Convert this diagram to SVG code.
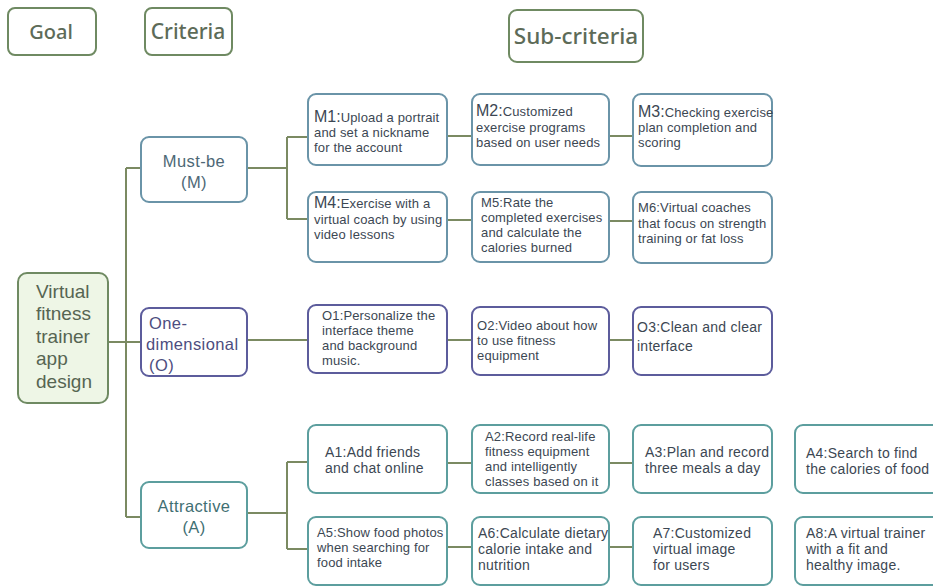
<svg xmlns="http://www.w3.org/2000/svg" width="933" height="586" viewBox="0 0 933 586">
<style>
.hdr{fill:#fff;stroke:#6f8a62;stroke-width:2}
.ht{font-family:"Noto Sans",sans-serif;font-weight:500;fill:#5d6b58;text-anchor:middle}
.goal{fill:#eef6e6;stroke:#6f8a62;stroke-width:2}
.gt{font-family:"Liberation Sans",Arial,sans-serif;font-size:19px;fill:#566552}
.m{fill:#fff;stroke:#6a94a8;stroke-width:2}
.o{fill:#fff;stroke:#5c5c9c;stroke-width:2}
.a{fill:#fff;stroke:#5c9e9e;stroke-width:2}
.ct{font-family:"Liberation Sans",Arial,sans-serif;font-size:16.5px;letter-spacing:.4px;fill:#4d6876;text-anchor:middle}
.cto{font-family:"Liberation Sans",Arial,sans-serif;font-size:16.5px;letter-spacing:.4px;fill:#4d4d80}
.cta{font-family:"Liberation Sans",Arial,sans-serif;font-size:16.5px;letter-spacing:.4px;fill:#3f6f73;text-anchor:middle}
.st{font-family:"Liberation Sans",Arial,sans-serif;font-size:13px;letter-spacing:.15px;fill:#3c4753}
.sa{font-family:"Liberation Sans",Arial,sans-serif;font-size:14px;letter-spacing:.25px;fill:#3c4753}
.big{font-size:16px;letter-spacing:0}
.ln{fill:none;stroke:#7b8a62;stroke-width:2}
</style>
<g id="connectors">
<path class="ln" d="M108 342H141M126 168V517M126 168H141M126 517H141"/>
<path class="ln" d="M247 168H287M287 137V219M287 137H308M287 219H308"/>
<path class="ln" d="M447 136H472M609 136H633M447 220H472M609 221H633"/>
<path class="ln" d="M247 340H308M447 340H472M609 340H633"/>
<path class="ln" d="M247 513H287M287 462V549M287 462H308M287 549H308"/>
<path class="ln" d="M447 463H472M609 463H633M447 547H472M609 547H633"/>
</g>
<g id="h-goal"><rect class="hdr" x="8" y="8" width="88" height="47" rx="7"/><text class="ht" x="51" y="39" font-size="20">Goal</text></g>
<g id="h-criteria"><rect class="hdr" x="145" y="8" width="87" height="47" rx="7"/><text class="ht" x="188" y="39" font-size="21">Criteria</text></g>
<g id="h-sub"><rect class="hdr" x="509" y="10" width="134" height="52" rx="8"/><text class="ht" x="576" y="44" font-size="22.5">Sub-criteria</text></g>
<g id="goal"><rect class="goal" x="18" y="273" width="90" height="130" rx="9"/>
<text class="gt" x="36" y="298">Virtual</text><text class="gt" x="36" y="320">fitness</text><text class="gt" x="36" y="343">trainer</text><text class="gt" x="36" y="365">app</text><text class="gt" x="36" y="388">design</text></g>
<g id="must-be"><rect class="m" x="141" y="137" width="106" height="65" rx="8"/><text class="ct" x="194" y="167">Must-be</text><text class="ct" x="194" y="188">(M)</text></g>
<g id="one-dim"><rect class="o" x="141" y="308" width="106" height="68" rx="8"/><text class="cto" x="149" y="329">One-</text><text class="cto" x="146" y="350">dimensional</text><text class="cto" x="149" y="371">(O)</text></g>
<g id="attractive"><rect class="a" x="141" y="482" width="106" height="66" rx="8"/><text class="cta" x="194" y="512">Attractive</text><text class="cta" x="194" y="533">(A)</text></g>
<g id="M1"><rect class="m" x="308" y="94" width="139" height="71" rx="8"/><text class="st" x="314" y="122"><tspan class="big">M1:</tspan>Upload a portrait</text><text class="st" x="314" y="137"> and set a nickname</text><text class="st" x="314" y="152">for the account</text></g>
<g id="M2"><rect class="m" x="472" y="94" width="137" height="71" rx="8"/><text class="st" x="476" y="116"><tspan class="big">M2:</tspan>Customized</text><text class="st" x="476" y="132">exercise programs</text><text class="st" x="476" y="147">based on user needs</text></g>
<g id="M3"><rect class="m" x="633" y="94" width="139" height="72" rx="8"/><text class="st" x="638" y="117"><tspan class="big">M3:</tspan>Checking exercise</text><text class="st" x="638" y="132">plan completion and</text><text class="st" x="638" y="147">scoring</text></g>
<g id="M4"><rect class="m" x="308" y="192" width="139" height="70" rx="8"/><text class="st" x="314" y="208"><tspan class="big">M4:</tspan>Exercise with a</text><text class="st" x="314" y="224">virtual coach by using</text><text class="st" x="314" y="239">video lessons</text></g>
<g id="M5"><rect class="m" x="472" y="192" width="137" height="70" rx="8"/><text class="st" x="481" y="207">M5:Rate the</text><text class="st" x="481" y="222">completed exercises</text><text class="st" x="481" y="237">and calculate the</text><text class="st" x="481" y="252">calories burned</text></g>
<g id="M6"><rect class="m" x="633" y="192" width="139" height="71" rx="8"/><text class="st" x="638" y="212">M6:Virtual coaches</text><text class="st" x="638" y="228">that focus on strength</text><text class="st" x="638" y="243">training or fat loss</text></g>
<g id="O1"><rect class="o" x="308" y="305" width="139" height="68" rx="8"/><text class="st" x="322" y="320">O1:Personalize the</text><text class="st" x="322" y="335">interface theme</text><text class="st" x="322" y="350">and background</text><text class="st" x="322" y="365">music.</text></g>
<g id="O2"><rect class="o" x="472" y="307" width="137" height="68" rx="8"/><text class="st" x="477" y="330">O2:Video about how</text><text class="st" x="477" y="345">to use fitness</text><text class="st" x="477" y="360">equipment</text></g>
<g id="O3"><rect class="o" x="633" y="307" width="139" height="68" rx="8"/><text class="sa" x="637" y="332">O3:Clean and clear</text><text class="sa" x="637" y="351">interface</text></g>
<g id="A1"><rect class="a" x="308" y="425" width="139" height="68" rx="8"/><text class="sa" x="325" y="457">A1:Add friends</text><text class="sa" x="325" y="473">and chat online</text></g>
<g id="A2"><rect class="a" x="472" y="425" width="137" height="68" rx="8"/><text class="st" x="485" y="441">A2:Record real-life</text><text class="st" x="485" y="456">fitness equipment</text><text class="st" x="485" y="471">and intelligently</text><text class="st" x="485" y="486">classes based on it</text></g>
<g id="A3"><rect class="a" x="633" y="425" width="139" height="68" rx="8"/><text class="sa" x="645" y="457">A3:Plan and record</text><text class="sa" x="645" y="473">three meals a day</text></g>
<g id="A4"><rect class="a" x="795" y="425" width="145" height="68" rx="8"/><text class="sa" x="806" y="458">A4:Search to find</text><text class="sa" x="806" y="474">the calories of food</text></g>
<g id="A5"><rect class="a" x="308" y="517" width="139" height="68" rx="8"/><text class="st" x="317" y="537">A5:Show food photos</text><text class="st" x="317" y="552">when searching for</text><text class="st" x="317" y="567">food intake</text></g>
<g id="A6"><rect class="a" x="472" y="517" width="137" height="68" rx="8"/><text class="sa" x="478" y="538">A6:Calculate dietary</text><text class="sa" x="478" y="554">calorie intake and</text><text class="sa" x="478" y="570">nutrition</text></g>
<g id="A7"><rect class="a" x="633" y="517" width="139" height="68" rx="8"/><text class="sa" x="653" y="538">A7:Customized</text><text class="sa" x="653" y="554">virtual image</text><text class="sa" x="653" y="570">for users</text></g>
<g id="A8"><rect class="a" x="795" y="517" width="145" height="68" rx="8"/><text class="sa" x="806" y="538">A8:A virtual trainer</text><text class="sa" x="806" y="554">with a fit and</text><text class="sa" x="806" y="570">healthy image.</text></g>
</svg>
